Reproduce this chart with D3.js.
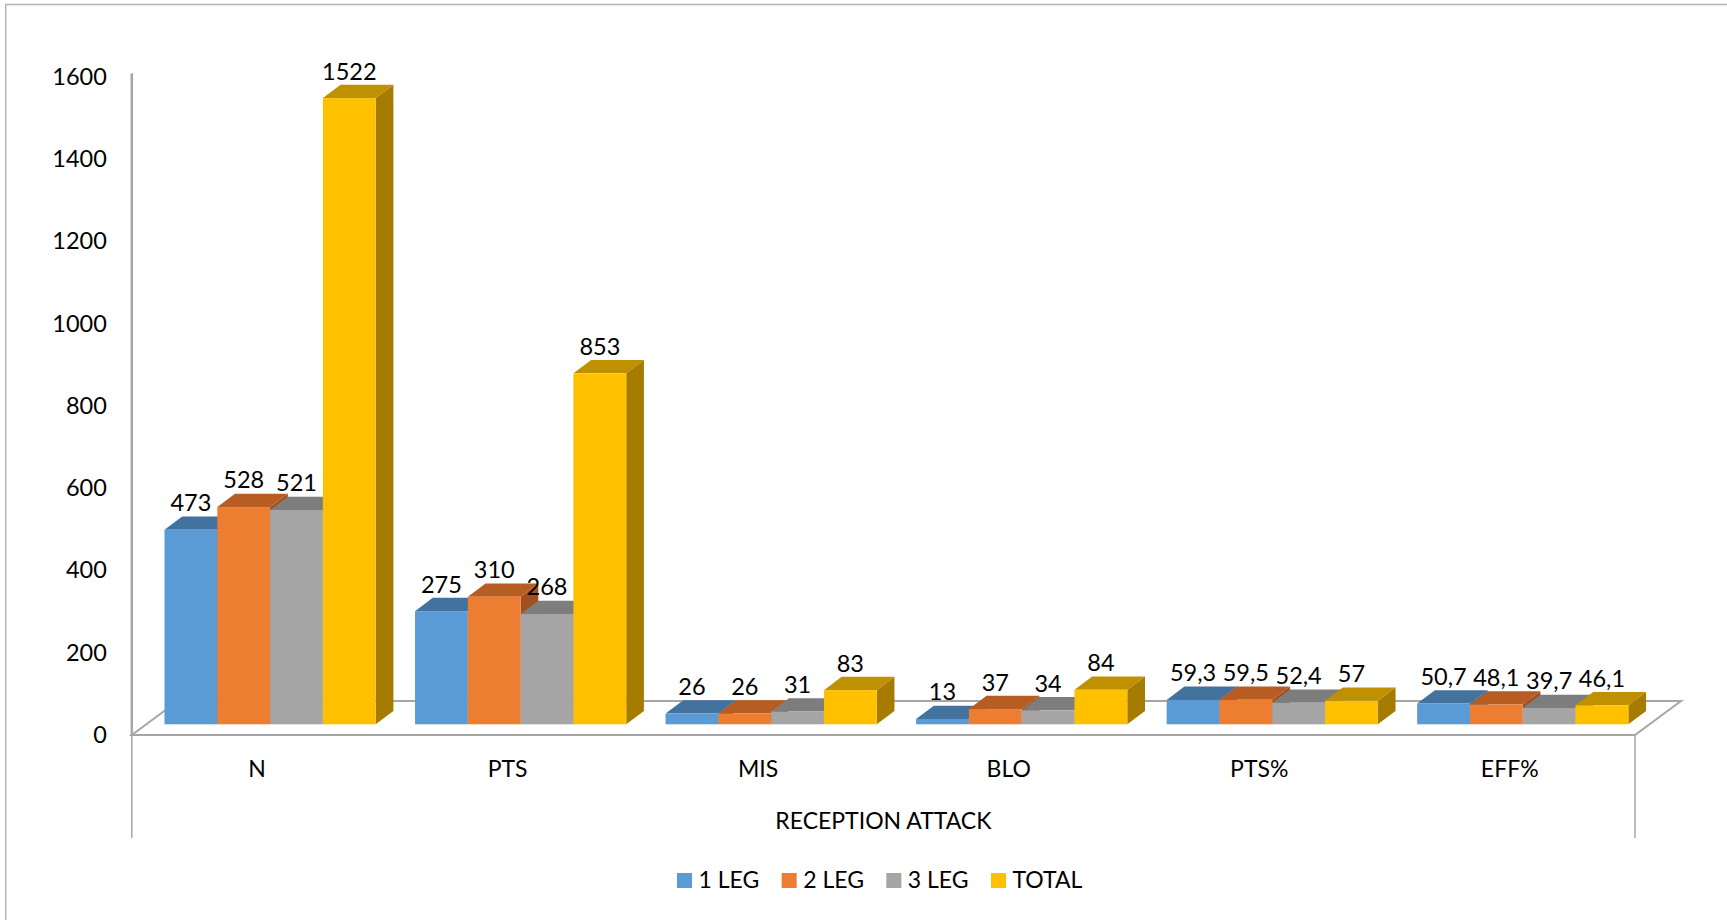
<!DOCTYPE html>
<html>
<head>
<meta charset="utf-8">
<script src="https://cdn.jsdelivr.net/npm/d3@7"></script>
<style>
    body { margin: 0; background: #fff; }
    text { font-family: Lato, "Open Sans", sans-serif; fill: #000; }
</style>
</head>
<body>
<svg id="chart" width="1727" height="920"></svg>
<script>
const categories = ["N", "PTS", "MIS", "BLO", "PTS%", "EFF%"];
const seriesNames = ["1 LEG", "2 LEG", "3 LEG", "TOTAL"];
const leg1 = [473, 275, 26, 13, 59.3, 50.7];
const leg2 = [528, 310, 26, 37, 59.5, 48.1];
const leg3 = [521, 268, 31, 34, 52.4, 39.7];
const total = [1522, 853, 83, 84, 57, 46.1];
const yTicks = [0, 200, 400, 600, 800, 1000, 1200, 1400, 1600];
const axisTitle = "RECEPTION ATTACK";

const seriesValues = [leg1, leg2, leg3, total];

const colors = ["#5B9BD5", "#ED7D31", "#A5A5A5", "#FFC000"];
const topColors = ["#44729F", "#B75C22", "#7D7D7D", "#BF9000"];
const sideColors = ["#3A6690", "#A04F1E", "#6E6E6E", "#A67C00"];
const lineColor = "#a6a6a6";

const left = 131.8, right = 1635, floorY = 735, topY = 76.7;
const floorDx = 46, floorDy = 34;
const barDx = 17.7, barDy = 13.3;
const barLift = 10.7, barShift = 32.7, groupWidth = 211.2;
const labelSize = "23.5px", textSize = "23px";

const svg = d3.select("#chart");

const x = d3.scaleBand().domain(categories).range([left, right]);
const barX = d3.scaleBand().domain(seriesNames).range([0, groupWidth]);
const y = d3.scaleLinear().domain([0, 1600]).range([floorY, topY]);

const points = arr => arr.map(p => p.join(",")).join(" ");

// outer frame, only the top and left edges show
svg.append("path").
attr("d", "M5.7,920V4.6H1727").
attr("fill", "none").
attr("stroke", "#b5b5b5").
attr("stroke-width", 1.5);

// floor
svg.append("polygon").
attr("points", points([
    [left, floorY],
    [left + floorDx, floorY - floorDy],
    [right + floorDx, floorY - floorDy],
    [right, floorY]
])).
attr("fill", "#fff").
attr("stroke", lineColor).
attr("stroke-width", 2);

// y axis
const yAxis = svg.append("g").
attr("transform", `translate(${left},0)`).
call(d3.axisLeft(y).tickValues(yTicks).tickFormat(d3.format("d")).tickSize(0).tickPadding(25));
yAxis.select(".domain").remove();
yAxis.selectAll("text").
style("font-size", labelSize).
style("font-family", "Lato");

svg.append("line").
attr("x1", left).
attr("x2", left).
attr("y1", floorY).
attr("y2", topY - 3.4).
attr("stroke", lineColor).
attr("stroke-width", 2.5);

// x axis
const xAxis = svg.append("g").
attr("transform", `translate(0,${floorY})`).
call(d3.axisBottom(x).tickSize(0).tickPadding(26));
xAxis.select(".domain").remove();
xAxis.selectAll("text").
style("font-size", textSize).
style("font-family", "Lato");

svg.append("g").
selectAll("line").
data([left, right]).
join("line").
attr("x1", d => d).
attr("x2", d => d).
attr("y1", floorY).
attr("y2", floorY + 103).
attr("stroke", lineColor).
attr("stroke-width", 1.5);

svg.append("text").
attr("x", (left + right) / 2).
attr("y", 828.5).
attr("text-anchor", "middle").
style("font-size", textSize).
text(axisTitle);

// bars, left to right so the nearer ones cover the side faces
const bars = [];
categories.forEach((c, i) => {
    seriesNames.forEach((s, j) => {
        bars.push({ category: c, series: j, name: s, value: seriesValues[j][i] });
    });
});

const barGroups = svg.append("g").
selectAll("g").
data(bars).
join("g").
attr("class", "bar");

const x0 = d => x(d.category) + barShift + barX(d.name);
const x1 = d => x0(d) + barX.bandwidth();
const yTop = d => y(d.value) - barLift;
const yBase = floorY - barLift;

barGroups.append("polygon").
attr("points", d => points([
    [x1(d), yTop(d)],
    [x1(d) + barDx, yTop(d) - barDy],
    [x1(d) + barDx, yBase - barDy],
    [x1(d), yBase]
])).
attr("fill", d => sideColors[d.series]);

barGroups.append("polygon").
attr("points", d => points([
    [x0(d), yTop(d)],
    [x0(d) + barDx, yTop(d) - barDy],
    [x1(d) + barDx, yTop(d) - barDy],
    [x1(d), yTop(d)]
])).
attr("fill", d => topColors[d.series]);

barGroups.append("rect").
attr("x", x0).
attr("y", yTop).
attr("width", barX.bandwidth()).
attr("height", d => yBase - yTop(d)).
attr("fill", d => colors[d.series]);

// data labels
svg.append("g").
selectAll("text").
data(bars).
join("text").
attr("x", d => (x0(d) + x1(d)) / 2).
attr("y", d => yTop(d) - barDy - 13.5).
attr("dy", "0.35em").
attr("text-anchor", "middle").
style("font-size", labelSize).
text(d => String(d.value).replace(".", ","));

// legend
const legendX = d3.scalePoint().domain(seriesNames).range([677, 991]);

const legend = svg.append("g").
selectAll("g").
data(seriesNames).
join("g").
attr("transform", d => `translate(${legendX(d)},873)`);

legend.append("rect").
attr("width", 15).
attr("height", 15).
attr("fill", (d, i) => colors[i]);

legend.append("text").
attr("x", 21.5).
attr("y", 7).
attr("dy", "0.35em").
style("font-size", textSize).
text(d => d);
</script>
</body>
</html>
